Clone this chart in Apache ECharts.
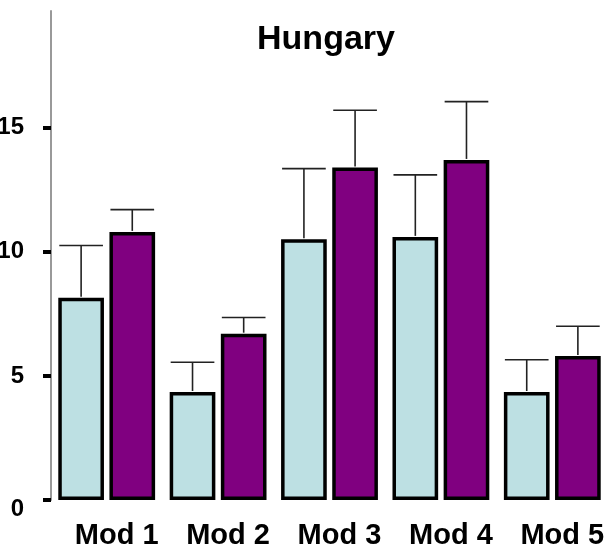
<!DOCTYPE html>
<html>
<head>
<meta charset="utf-8">
<script src="https://cdn.jsdelivr.net/npm/echarts@6/dist/echarts.min.js"></script>
<style>
  html, body { margin: 0; padding: 0; background: #fff; }
  #chart { width: 615px; height: 547px; }
</style>
</head>
<body>
<div id="chart"></div>
<script>
// Model categories and the two series (means with upper error amounts)
const categories = ['Mod 1', 'Mod 2', 'Mod 3', 'Mod 4', 'Mod 5'];
const seriesA = [8.15, 4.35, 10.5, 10.6, 4.35];
const seriesAErr = [2.1, 1.2, 2.85, 2.5, 1.3];
const seriesB = [10.8, 6.7, 13.4, 13.7, 5.8];
const seriesBErr = [0.9, 0.65, 2.3, 2.35, 1.2];
const yTicks = [0, 5, 10, 15];

const BAR_W = 0.41;   // fraction of category band
const BAR_GAP = 0.12; // fraction of bar width

const chart = echarts.init(document.getElementById('chart'), null, { renderer: 'canvas' });

// Error whisker (upward only) drawn over a bar in the group
function errorRenderer(values, errs, side) {
  return function (params, api) {
    const i = api.value(0);
    const band = api.size([1, 0])[0];
    const bw = band * BAR_W;
    const off = side * bw * (1 + BAR_GAP) / 2;
    const base = api.coord([i, values[i]]);
    const top = api.coord([i, values[i] + errs[i]]);
    const x = base[0] + off;
    const half = bw / 2 - 1;
    const style = { stroke: '#222', lineWidth: 1.6 };
    return {
      type: 'group',
      children: [
        { type: 'line', shape: { x1: x, y1: base[1] - 1, x2: x, y2: top[1] }, style },
        { type: 'line', shape: { x1: x - half, y1: top[1], x2: x + half, y2: top[1] }, style }
      ]
    };
  };
}

const option = {
  backgroundColor: '#fff',
  animation: false,
  title: {
    text: 'Hungary',
    left: 321, top: 18, textAlign: 'center',
    textStyle: { fontFamily: 'Liberation Sans', fontWeight: 'bold', fontSize: 34, color: '#000' }
  },
  grid: { left: 51, right: 7, top: 11, bottom: 47, outerBoundsMode: 'none' },
  xAxis: {
    type: 'category',
    data: categories,
    axisLine: { show: false },
    axisTick: { show: false },
    axisLabel: {
      margin: 21,
      padding: [0, 0, 0, 20],
      fontFamily: 'Liberation Sans', fontWeight: 'bold', fontSize: 29, color: '#000'
    }
  },
  yAxis: {
    type: 'value',
    min: 0, max: 19.7, interval: 5,
    splitLine: { show: false },
    axisLine: { show: true, lineStyle: { color: '#999', width: 2 } },
    axisTick: { show: true, length: 8, customValues: yTicks, lineStyle: { color: '#000', width: 4 } },
    axisLabel: {
      customValues: yTicks,
      margin: 27,
      fontFamily: 'Liberation Sans', fontWeight: 'bold', fontSize: 24, color: '#000',
      formatter: v => v === 0 ? '{z|0}' : String(v),
      rich: { z: { fontFamily: 'Liberation Sans', fontWeight: 'bold', fontSize: 24, color: '#000', padding: [18, 0, 0, 0] } }
    }
  },
  series: [
    {
      type: 'bar', data: seriesA,
      barWidth: (BAR_W * 100) + '%', barGap: (BAR_GAP * 100) + '%',
      itemStyle: { color: '#bde0e3', borderColor: '#000', borderWidth: 3.5 },
      z: 2
    },
    {
      type: 'bar', data: seriesB,
      barWidth: (BAR_W * 100) + '%', barGap: (BAR_GAP * 100) + '%',
      itemStyle: { color: '#800080', borderColor: '#000', borderWidth: 3.5 },
      z: 2
    },
    {
      type: 'custom', renderItem: errorRenderer(seriesA, seriesAErr, -1),
      data: categories.map((c, i) => [i, seriesA[i] + seriesAErr[i]]), z: 3
    },
    {
      type: 'custom', renderItem: errorRenderer(seriesB, seriesBErr, 1),
      data: categories.map((c, i) => [i, seriesB[i] + seriesBErr[i]]), z: 3
    }
  ]
};
chart.setOption(option);
</script>
</body>
</html>
